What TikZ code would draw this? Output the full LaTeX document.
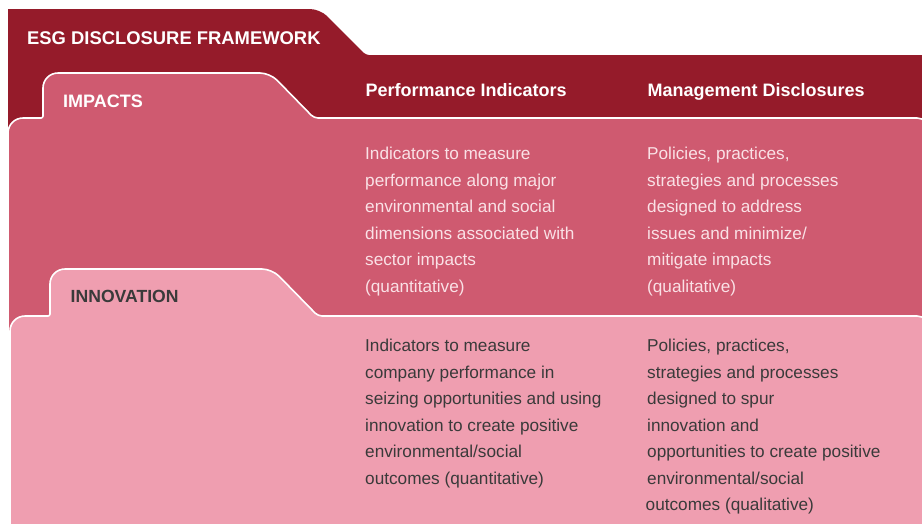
\documentclass[tikz,border=0pt]{standalone}
\usepackage{fontspec}
\setmainfont{Liberation Sans}
\definecolor{esgdark}{HTML}{951B2A}
\definecolor{esgmid}{HTML}{CF5A70}
\definecolor{esglight}{HTML}{EF9EB0}
\definecolor{esgpale}{HTML}{FAE1E6}
\definecolor{esggray}{HTML}{3A3A3A}
\tikzset{
  panel/.style={draw=white, line width=1.6pt},
  headtext/.style={font=\fontsize{18}{21}\selectfont\bfseries, inner sep=0pt, anchor=base west},
  bodytext/.style={font=\fontsize{17.2}{26.5}\selectfont, inner sep=0pt, anchor=north west, align=left},
}
\begin{document}
\begin{tikzpicture}[x=1pt,y=-1pt]
\useasboundingbox (0,0) rectangle (922,523);
\fill[white] (0,0) rectangle (922,523);
% dark outer folder
\fill[esgdark] (8,540) -- (8,9) [rounded corners=10] -- (320,9) [rounded corners=3] -- (366,55) [sharp corners] -- (940,55) -- (940,540) -- cycle;
% impacts folder
\path[fill=esgmid, panel] (8,560) [rounded corners=15] -- (8,118) [rounded corners=2] -- (43,118) [rounded corners=15] -- (43,73) [rounded corners=10] -- (270,73) [rounded corners=4] -- (314,118) [rounded corners=12] -- (929,118) [sharp corners] -- (929,560) -- cycle;
% innovation folder
\path[fill=esglight, panel] (10,560) [rounded corners=15] -- (10,316) [rounded corners=2] -- (50,316) [rounded corners=15] -- (50,269) [rounded corners=10] -- (272,269) [rounded corners=4] -- (318,316) [rounded corners=12] -- (929,316) [sharp corners] -- (929,560) -- cycle;

% header labels
\node[headtext, text=white, font=\fontsize{18.4}{21}\selectfont\bfseries] (title) at (27,44) {ESG DISCLOSURE FRAMEWORK};
\node[headtext, text=white] (impacts) at (63,107) {IMPACTS};
\node[headtext, text=esggray, font=\fontsize{17.6}{21}\selectfont\bfseries] (innovation) at (70.5,302.7) {INNOVATION};
\node[headtext, text=white] (perfhead) at (365.5,96) {Performance Indicators};
\node[headtext, text=white] (mgmthead) at (647.5,96) {Management Disclosures};

% impacts texts
\node[bodytext, text=esgpale] (imp1) at (365,145.3) {\rule{0pt}{14pt}Indicators to measure\\performance along major\\environmental and social\\dimensions associated with\\sector impacts\\(quantitative)};
\node[bodytext, text=esgpale] (imp2) at (647,145.3) {\rule{0pt}{14pt}Policies, practices,\\strategies and processes\\designed to address\\issues and minimize/\\mitigate impacts\\(qualitative)};

% innovation texts
\node[bodytext, text=esggray] (inn1) at (365,337.5) {\rule{0pt}{14pt}Indicators to measure\\company performance in\\seizing opportunities and using\\innovation to create positive\\environmental/social\\outcomes (quantitative)};
\node[bodytext, text=esggray] (inn2) at (647,337.5) {\rule{0pt}{14pt}Policies, practices,\\strategies and processes\\designed to spur\\innovation and\\opportunities to create positive\\environmental/social\\\hspace*{-1.5pt}outcomes (qualitative)};
\end{tikzpicture}
\end{document}
